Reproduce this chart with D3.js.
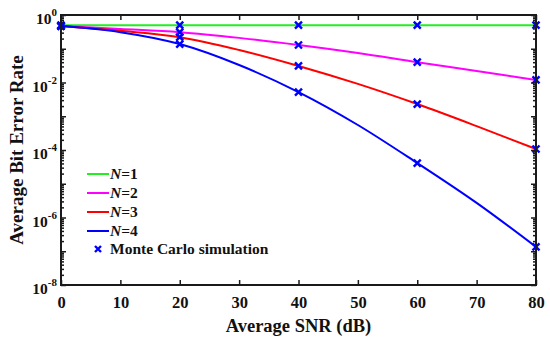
<!DOCTYPE html>
<html>
<head>
<meta charset="utf-8">
<script src="https://cdn.jsdelivr.net/npm/d3@7"></script>
<style>
  body { margin: 0; background: #fff; }
  text { font-family: "Liberation Serif", "Times New Roman", serif; font-weight: bold; fill: #111; }
</style>
</head>
<body>
<div id="chart"></div>
<script>
'use strict';

// curve samples (SNR in dB)
var snr = [0, 10, 20, 30, 40, 50, 60, 70, 80];
var ber1 = [0.5, 0.5, 0.5, 0.5, 0.5, 0.5, 0.5, 0.5, 0.5];
var ber2 = [0.47, 0.385, 0.31, 0.21, 0.129, 0.075, 0.040, 0.022, 0.0119];
var ber3 = [0.47, 0.34, 0.22, 0.092, 0.031, 0.0091, 0.0023, 0.00051, 0.000107];
var ber4 = [0.47, 0.31, 0.138, 0.033, 0.0052, 0.00055, 0.000041, 0.0000027, 0.000000134];

// Monte Carlo markers
var mcSnr = [0, 20, 40, 60, 80];
var mc1 = [0.5, 0.5, 0.5, 0.5, 0.5];
var mc2 = [0.47, 0.31, 0.129, 0.040, 0.0119];
var mc3 = [0.47, 0.22, 0.031, 0.0023, 0.000107];
var mc4 = [0.47, 0.138, 0.0052, 0.000041, 0.000000134];

var seriesNames = ['1', '2', '3', '4'];
var colors = ['#22ee22', '#ff00ff', '#ff0000', '#0000ff'];
var xTicks = [0, 10, 20, 30, 40, 50, 60, 70, 80];
var yExps = [0, -2, -4, -6, -8];

var width = 550, height = 339;
var m = { left: 61, right: 14, top: 15, bottom: 54 };

var svg = d3.select('#chart').append('svg')
  .attr('width', width)
  .attr('height', height);

var x = d3.scaleLinear().domain([0, 80]).range([m.left, width - m.right]);
var y = d3.scaleLog().domain([1e-8, 1]).range([height - m.bottom, m.top]);

var line = d3.line()
  .x(function(d) { return x(d[0]); })
  .y(function(d) { return y(d[1]); })
  .curve(d3.curveMonotoneX);

var curves = [ber1, ber2, ber3, ber4];
var marks = [mc1, mc2, mc3, mc4];

var plot = svg.append('g');

curves.forEach(function(vals, i) {
  plot.append('path')
    .datum(snr.map(function(s, j) { return [s, vals[j]]; }))
    .attr('d', line)
    .attr('fill', 'none')
    .attr('stroke', colors[i])
    .attr('stroke-width', 2);
});

function cross(g, cx, cy, r) {
  g.append('path')
    .attr('d', 'M' + (cx - r) + ',' + (cy - r) + 'L' + (cx + r) + ',' + (cy + r) +
               'M' + (cx - r) + ',' + (cy + r) + 'L' + (cx + r) + ',' + (cy - r))
    .attr('stroke', '#0000ff')
    .attr('stroke-width', 2.4)
    .attr('fill', 'none');
}

marks.forEach(function(vals) {
  mcSnr.forEach(function(s, j) {
    cross(plot, x(s), y(vals[j]), 3.5);
  });
});

// axes (ticks point inward)
var axisColor = '#1a1a1a';
var tickLen = 5;
var xb = svg.append('g').attr('transform', 'translate(0,' + (height - m.bottom) + ')')
  .call(d3.axisBottom(x).tickValues(xTicks).tickSize(-tickLen).tickPadding(11).tickFormat(d3.format('d')));
var xt = svg.append('g').attr('transform', 'translate(0,' + m.top + ')')
  .call(d3.axisTop(x).tickValues(xTicks).tickSize(-tickLen).tickFormat(''));

var minor = [];
for (var e = -8; e < 0; e++) {
  for (var k = 2; k <= 9; k++) minor.push(k * Math.pow(10, e));
}
var majorAll = d3.range(-8, 1).map(function(p) { return Math.pow(10, p); });

var yl = svg.append('g').attr('transform', 'translate(' + m.left + ',0)')
  .call(d3.axisLeft(y).tickValues(majorAll).tickSize(-tickLen).tickFormat(''));
var yr = svg.append('g').attr('transform', 'translate(' + (width - m.right) + ',0)')
  .call(d3.axisRight(y).tickValues(majorAll).tickSize(-tickLen).tickFormat(''));
var ylm = svg.append('g').attr('transform', 'translate(' + m.left + ',0)')
  .call(d3.axisLeft(y).tickValues(minor).tickSize(-3).tickFormat(''));
var yrm = svg.append('g').attr('transform', 'translate(' + (width - m.right) + ',0)')
  .call(d3.axisRight(y).tickValues(minor).tickSize(-3).tickFormat(''));

[xb, xt, yl, yr, ylm, yrm].forEach(function(g) {
  g.select('.domain').remove();
  g.selectAll('.tick line').attr('stroke', axisColor).attr('stroke-width', 1.5);
});
xb.selectAll('.tick text')
  .style('font-family', '"Liberation Serif", serif')
  .style('font-weight', 'bold')
  .style('font-size', '16.5px')
  .attr('fill', '#111');

// y tick labels with superscripts
yExps.forEach(function(p) {
  var t = svg.append('text')
    .attr('x', m.left - 4)
    .attr('y', y(Math.pow(10, p)) + 9)
    .attr('text-anchor', 'end')
    .style('font-size', '15.5px');
  t.append('tspan').text('10');
  t.append('tspan').attr('dy', -8).style('font-size', '11px').text(p === 0 ? '0' : '-' + (-p));
});

// frame
svg.append('rect')
  .attr('x', m.left).attr('y', m.top)
  .attr('width', width - m.left - m.right)
  .attr('height', height - m.top - m.bottom)
  .attr('fill', 'none')
  .attr('stroke', axisColor)
  .attr('stroke-width', 2);

// axis titles
svg.append('text')
  .attr('x', (m.left + width - m.right) / 2)
  .attr('y', 332)
  .attr('text-anchor', 'middle')
  .style('font-size', '18.5px')
  .text('Average SNR (dB)');

svg.append('text')
  .attr('transform', 'translate(23,' + ((m.top + height - m.bottom) / 2) + ') rotate(-90)')
  .attr('text-anchor', 'middle')
  .style('font-size', '19px')
  .text('Average Bit Error Rate');

// legend
var lg = svg.append('g');
var rowY = [174, 193, 212, 231, 249];
seriesNames.forEach(function(n, i) {
  lg.append('line')
    .attr('x1', 87).attr('x2', 109)
    .attr('y1', rowY[i]).attr('y2', rowY[i])
    .attr('stroke', colors[i]).attr('stroke-width', 2);
  var t = lg.append('text')
    .attr('x', 110).attr('y', rowY[i] + 5)
    .style('font-size', '15.5px');
  t.append('tspan').style('font-style', 'italic').text('N');
  t.append('tspan').text('=' + n);
});
cross(lg, 98, rowY[4], 3);
lg.append('text')
  .attr('x', 110).attr('y', rowY[4] + 5)
  .style('font-size', '15.5px')
  .text('Monte Carlo simulation');
</script>
</body>
</html>
